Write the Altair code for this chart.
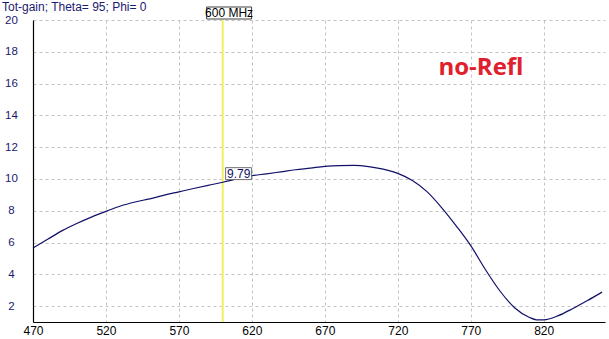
import altair as alt
import pandas as pd

# ---- data ----
freq = [470, 480, 490, 500, 510, 520, 530, 540, 550, 560, 570, 580, 590, 600,
        610, 620, 630, 640, 650, 660, 670, 680, 690, 700, 710, 720, 730, 740,
        750, 760, 770, 780, 790, 800, 810, 815, 820, 830, 840, 850, 860]
gain = [5.65, 6.2, 6.75, 7.2, 7.6, 7.96, 8.3, 8.55, 8.75, 8.98, 9.19, 9.4, 9.6, 9.79,
        10.0, 10.2, 10.32, 10.45, 10.58, 10.68, 10.79, 10.84, 10.85, 10.78, 10.62, 10.35, 9.9, 9.2,
        8.2, 7.05, 5.8, 4.3, 2.95, 1.9, 1.3, 1.14, 1.14, 1.4, 1.85, 2.35, 2.88]
x_ticks = [470, 520, 570, 620, 670, 720, 770, 820]
y_ticks = [2, 4, 6, 8, 10, 12, 14, 16, 18, 20]
marker_freq = [600]
marker_gain = [9.79]
marker_label = ["600 MHz"]
value_label = ["9.79"]
title_text = ["Tot-gain; Theta= 95; Phi= 0"]
note_text = ["no-Refl"]

df = pd.DataFrame({"f": freq, "g": gain})
xs = alt.Scale(domain=[470, 862], nice=False, zero=False)
ys = alt.Scale(domain=[1, 20], nice=False, zero=False)

FONT = "Liberation Sans"
NAVY = "#10106a"

line = alt.Chart(df).mark_line(color=NAVY, strokeWidth=1.2, interpolate="monotone").encode(
    x=alt.X("f:Q", scale=xs, title=None,
            axis=alt.Axis(values=x_ticks, tickCount=len(x_ticks) + 2, ticks=False, tickSize=0,
                          labelPadding=3, labelFont=FONT, labelFontSize=12, labelColor="#000000",
                          domainColor="#000000", domainWidth=1.2, labelOverlap=False,
                          gridColor="#c4c4c4", gridDash=[3, 3], labelFlush=False)),
    y=alt.Y("g:Q", scale=ys, title=None,
            axis=alt.Axis(values=y_ticks, tickCount=len(y_ticks) + 2, ticks=False, tickSize=0,
                          labelPadding=22, labelAlign="center", labelFont=FONT, labelFontSize=11.5,
                          labelColor="#1a1a70", domainColor="#000000", domainWidth=1.2,
                          labelOverlap=False,
                          gridColor="#c4c4c4", gridDash=[3, 3], labelFlush=False)),
)

mk = pd.DataFrame({"f": marker_freq, "g": marker_gain, "lab": marker_label, "val": value_label})

rule = alt.Chart(mk).mark_rule(color="#f0f060", strokeWidth=2).encode(x=alt.X("f:Q", scale=xs))

top_box = alt.Chart(mk).transform_calculate(a="datum.f - 11", b="datum.f + 19.8").mark_rect(
    fill="white", stroke="#404040", strokeWidth=1).encode(
    x=alt.X("a:Q", scale=xs), x2="b:Q", y=alt.value(-13), y2=alt.value(-1))
top_text = alt.Chart(mk).transform_calculate(c="datum.f + 4.4").mark_text(
    font=FONT, fontSize=12, color="#000000", baseline="middle").encode(
    x=alt.X("c:Q", scale=xs), y=alt.value(-7), text="lab:N")

val_box = alt.Chart(mk).transform_calculate(
    a="datum.f + 2", b="datum.f + 19.8", y1="datum.g + 0.17", y2="datum.g + 0.92").mark_rect(
    fill="white", stroke="#707070", strokeWidth=1).encode(
    x=alt.X("a:Q", scale=xs), x2="b:Q", y=alt.Y("y1:Q", scale=ys), y2="y2:Q")
val_text = alt.Chart(mk).transform_calculate(c="datum.f + 11", d="datum.g + 0.54").mark_text(
    font=FONT, fontSize=12, color=NAVY, baseline="middle").encode(
    x=alt.X("c:Q", scale=xs), y=alt.Y("d:Q", scale=ys), text="val:N")

note = alt.Chart(pd.DataFrame({"f": [777], "g": [17.0], "t": note_text})).mark_text(
    font="Open Sans", fontSize=24, fontWeight="bold", color="#e0202c", baseline="middle").encode(
    x=alt.X("f:Q", scale=xs), y=alt.Y("g:Q", scale=ys), text="t:N")

title = alt.Chart(pd.DataFrame({"t": title_text})).mark_text(
    font=FONT, fontSize=12, color="#1a1a70", align="left", baseline="middle").encode(
    x=alt.value(-31), y=alt.value(-13), text="t:N")

chart = alt.layer(rule, line, top_box, top_text, val_box, val_text, note, title).properties(
    width=572, height=302,
    autosize=alt.AutoSizeParams(type="none"),
    padding={"left": 33, "top": 20, "right": 4, "bottom": 17},
    background="white",
).configure_view(stroke=None).configure_axis(grid=True)

chart.save("out.html", embed_options={"renderer": "svg", "actions": False})
